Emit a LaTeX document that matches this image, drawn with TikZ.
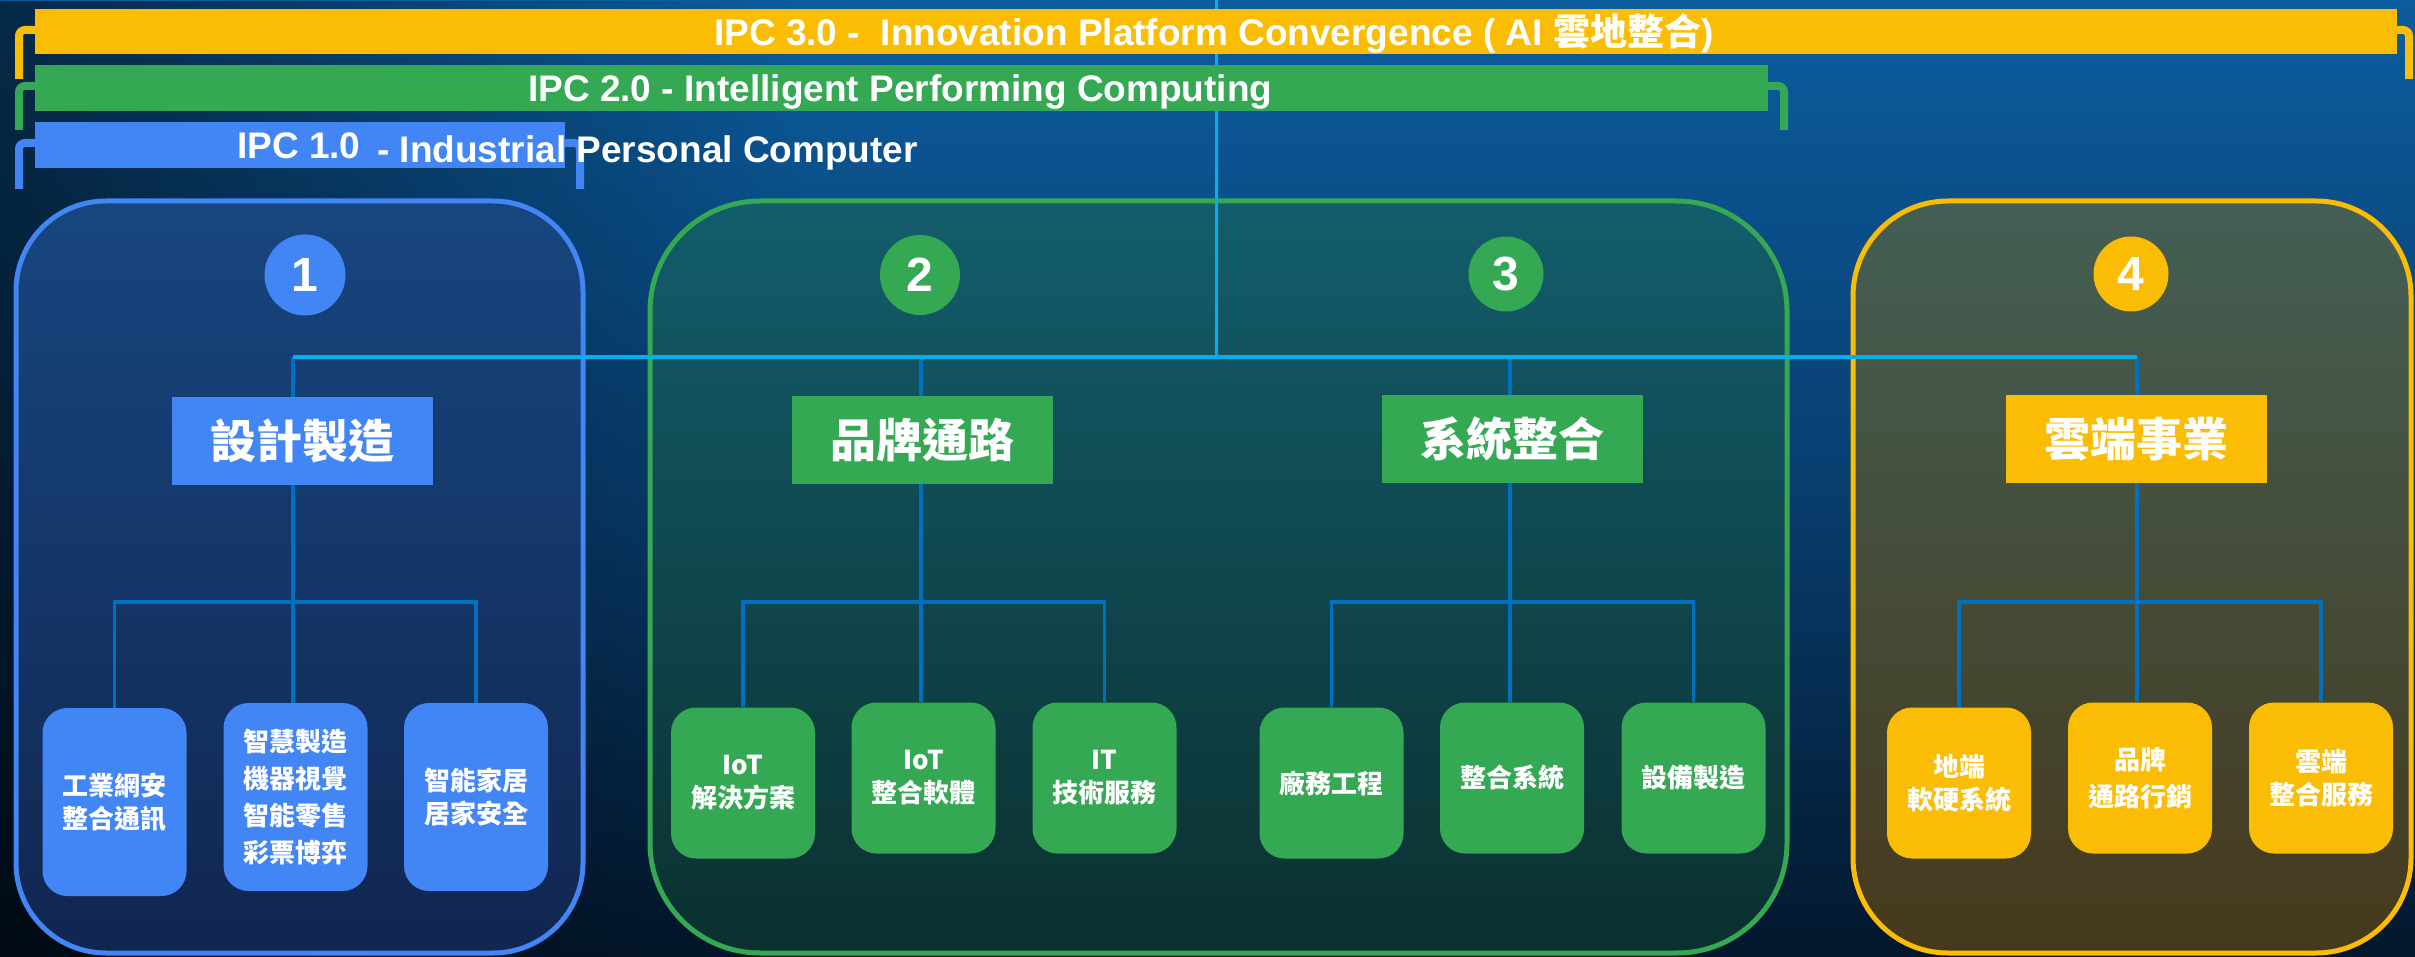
\documentclass[tikz,border=0pt]{standalone}
\usepackage{fontspec}
\setmainfont{Liberation Sans}
\newfontfamily\cjk{Noto Sans CJK TC}
\usetikzlibrary{fadings}
\definecolor{gblue}{HTML}{4285F4}
\definecolor{ggreen}{HTML}{34A853}
\definecolor{gyellow}{HTML}{FBBC04}
\definecolor{cyanline}{HTML}{00B0F0}
\definecolor{treeline}{HTML}{0070C0}
\definecolor{bgtop}{HTML}{0C5D9E}
\definecolor{bgmid}{HTML}{083E70}
\definecolor{bgbot}{HTML}{03172C}
\definecolor{p1top}{HTML}{17467F}
\definecolor{p1bot}{HTML}{112650}
\definecolor{p2top}{HTML}{135D6C}
\definecolor{p2bot}{HTML}{0B302F}
\definecolor{p4top}{HTML}{445F55}
\definecolor{p4bot}{HTML}{46391C}
\begin{document}
\begin{tikzpicture}[x=1pt,y=-1pt,
  bracket/.style={line width=8pt, rounded corners=6pt},
  panel/.style={line width=5pt, rounded corners=#1},
  bartext/.style={anchor=base west, inner sep=0pt, text=white, font=\bfseries\fontsize{37}{37}\selectfont},
  num/.style={circle, inner sep=0pt, text=white, font=\bfseries\fontsize{48}{48}\selectfont},
  head/.style={minimum width=261pt, minimum height=88pt, inner sep=0pt, text=white, font=\cjk\bfseries\fontsize{46}{46}\selectfont},
  leaf/.style={rounded corners=25pt, minimum width=144pt, inner sep=0pt, text=white, align=center, font=\cjk\bfseries\fontsize{26}{33}\selectfont},
  tree/.style={treeline, line width=3.5pt},
  hub/.style={cyanline, line width=4pt},
]
\useasboundingbox (0,0) rectangle (2415,957);
% background
\shade[top color=bgtop, bottom color=bgbot, middle color=bgmid] (0,0) rectangle (2415,957);
\fill[black, fill opacity=0.55, path fading=east] (0,0) rectangle (800,957);

% panels
\shadedraw[panel=90pt, draw=gblue, top color=p1top, bottom color=p1bot] (16,201) rectangle (583,953);
\shadedraw[panel=110pt, draw=ggreen, top color=p2top, bottom color=p2bot] (650,201) rectangle (1787,953);
\shadedraw[panel=95pt, draw=gyellow, top color=p4top, bottom color=p4bot] (1853,201) rectangle (2411,953);

% hub coordinates and main vertical line (behind the bars)
\coordinate (top) at (1216,0);
\coordinate (d1) at (293,357);
\coordinate (d2) at (921,357);
\coordinate (d3) at (1510,357);
\coordinate (d4) at (2137,357);
\draw[hub, line width=3pt] (top) -- (top |- d1);

% brackets
\draw[bracket, gyellow] (40,30) -- (19,30) -- (19,79);
\draw[bracket, gyellow] (2390,30) -- (2409,30) -- (2409,79);
\draw[bracket, ggreen] (40,86) -- (19,86) -- (19,130);
\draw[bracket, ggreen] (1760,86) -- (1784,86) -- (1784,130);
\draw[bracket, gblue] (40,143) -- (19,143) -- (19,189);
\draw[bracket, gblue] (560,143) -- (580,143) -- (580,189);

% bars
\fill[gyellow] (35,9) rectangle (2397,54);
\fill[ggreen] (35,65) rectangle (1768,111);
\fill[gblue] (35,122) rectangle (565,168);
\node[bartext] (t3) at (714,46) {IPC 3.0 -~ Innovation Platform Convergence ( AI {\cjk 雲地整合})};
\node[bartext] (t2) at (528,102) {IPC 2.0 - Intelligent Performing Computing};
\node[bartext] (t1a) at (237,159) {IPC 1.0};
\node[bartext] (t1b) at (377,163) {- Industrial Personal Computer};

% number circles
\node[num, fill=gblue, minimum size=81pt] (n1) at (305,275) {1};
\node[num, fill=ggreen, minimum size=80pt] (n2) at (920,275) {2};
\node[num, fill=ggreen, minimum size=75pt] (n3) at (1506,274) {3};
\node[num, fill=gyellow, minimum size=75pt] (n4) at (2131,274) {4};

% headers
\node[head, fill=gblue] (h1) at (302.5,441) {設計製造};
\node[head, fill=ggreen] (h2) at (922.5,440) {品牌通路};
\node[head, fill=ggreen] (h3) at (1512,439) {系統整合};
\node[head, fill=gyellow] (h4) at (2136.5,439) {雲端事業};

% leaves
\node[leaf, fill=gblue, minimum height=188pt] (l1a) at (114.5,802) {工業網安\\整合通訊};
\node[leaf, fill=gblue, minimum height=188pt, font=\cjk\bfseries\fontsize{26}{37}\selectfont] (l1b) at (295.5,797) {智慧製造\\機器視覺\\智能零售\\彩票博弈};
\node[leaf, fill=gblue, minimum height=188pt] (l1c) at (476,797) {智能家居\\居家安全};

\node[leaf, fill=ggreen, minimum height=151pt] (l2a) at (743,783) {IoT\\解決方案};
\node[leaf, fill=ggreen, minimum height=151pt] (l2b) at (923.5,778) {IoT\\整合軟體};
\node[leaf, fill=ggreen, minimum height=151pt] (l2c) at (1104.5,778) {IT\\技術服務};

\node[leaf, fill=ggreen, minimum height=151pt] (l3a) at (1331.5,783) {廠務工程};
\node[leaf, fill=ggreen, minimum height=151pt] (l3b) at (1512,778) {整合系統};
\node[leaf, fill=ggreen, minimum height=151pt] (l3c) at (1693.5,778) {設備製造};

\node[leaf, fill=gyellow, minimum height=151pt] (l4a) at (1959,783) {地端\\軟硬系統};
\node[leaf, fill=gyellow, minimum height=151pt, font=\cjk\bfseries\fontsize{26}{37}\selectfont] (l4b) at (2140,778) {品牌\\通路行銷};
\node[leaf, fill=gyellow, minimum height=151pt] (l4c) at (2321,778) {雲端\\整合服務};

% hub
\draw[tree] (d1) -- (h1.north -| d1);
\draw[tree] (d2) -- (h2.north -| d2);
\draw[tree] (d3) -- (h3.north -| d3);
\draw[tree] (d4) -- (h4.north -| d4);
\draw[hub] (d1) -- (d4);

% trees
\coordinate (b1) at (293,602);
\coordinate (b2) at (921,602);
\coordinate (b3) at (1510,602);
\coordinate (b4) at (2137,602);
\draw[tree] (h1.south -| b1) -- (b1);
\draw[tree] (h2.south -| b2) -- (b2);
\draw[tree] (h3.south -| b3) -- (b3);
\draw[tree] (h4.south -| b4) -- (b4);
\foreach \g in {1,2,3,4}{
  \draw[tree] (l\g a.north) |- (b\g) -| (l\g c.north);
  \draw[tree] (b\g) -- (l\g b.north -| b\g);
}
\end{tikzpicture}
\end{document}
